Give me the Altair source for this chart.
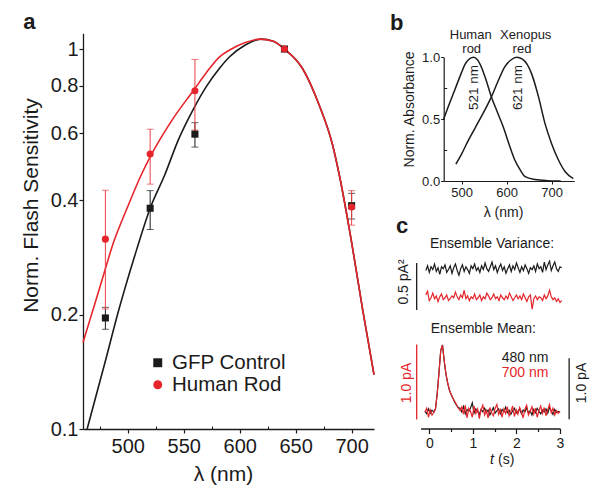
import altair as alt
import pandas as pd

FONT = "Liberation Sans"
RED = "#e5252b"
RED_ERR = "#ec3f44"
BLK = "#1b1b1b"

# ---------------- panel a data ----------------
wavelengths = [480, 520, 560, 640, 700]
gfp_mean = [0.196, 0.381, 0.597, 1.0, 0.387]
gfp_low = [0.183, 0.335, 0.552, 1.0, 0.357]
gfp_high = [0.209, 0.424, 0.640, 1.0, 0.417]
rod_mean = [0.316, 0.529, 0.777, 1.0, 0.384]
rod_low = [0.207, 0.441, 0.612, 1.0, 0.344]
rod_high = [0.425, 0.615, 0.939, 1.0, 0.424]

fit_gfp_nm = [463.7, 480, 492, 497, 508, 520, 533, 545, 559, 570, 582, 591, 605, 619, 630, 640, 656, 671, 683, 689, 700, 710, 720]
fit_gfp_val = [0.100, 0.151, 0.206, 0.232, 0.297, 0.381, 0.466, 0.575, 0.698, 0.795, 0.89, 0.954, 1.025, 1.062, 1.048, 1.0, 0.89, 0.712, 0.559, 0.466, 0.31, 0.205, 0.139]
fit_rod_nm = [460, 467.6, 473.5, 478.8, 487, 500, 512, 520, 540, 559, 570, 582, 591, 605, 618, 630, 640, 656, 671, 683, 689, 700, 710, 720]
fit_rod_val = [0.169, 0.200, 0.228, 0.257, 0.308, 0.385, 0.466, 0.52, 0.653, 0.78, 0.865, 0.954, 0.994, 1.04, 1.062, 1.048, 1.0, 0.89, 0.712, 0.559, 0.466, 0.31, 0.205, 0.139]

# ---------------- panel b data ----------------
abs_rod_nm = [460, 470, 485, 500, 507, 515, 526, 535, 545, 552, 566, 580, 592, 605, 618, 630, 641, 663, 690, 720]
abs_rod_val = [0.50, 0.60, 0.74, 0.88, 0.94, 0.98, 1.0, 0.98, 0.91, 0.84, 0.68, 0.55, 0.44, 0.30, 0.17, 0.09, 0.035, 0.012, 0.003, 0.0]
abs_xen_nm = [487, 500, 515, 530, 545, 566, 580, 596, 610, 622, 635, 655, 670, 685, 700, 715, 730, 748]
abs_xen_val = [0.137, 0.22, 0.33, 0.43, 0.53, 0.68, 0.80, 0.924, 0.98, 1.0, 0.985, 0.87, 0.69, 0.466, 0.30, 0.17, 0.075, 0.02]

# ---------------- panel c data ----------------
var_480 = [0.42, 0.47, 0.40, 0.46, 0.43, 0.49, 0.41, 0.45, 0.38, 0.46, 0.44, 0.48, 0.40, 0.43, 0.47, 0.39,
           0.45, 0.49, 0.42, 0.37, 0.44, 0.48, 0.41, 0.46, 0.43, 0.39, 0.47, 0.44, 0.49, 0.42, 0.45, 0.40,
           0.47, 0.43, 0.50, 0.44, 0.41, 0.46, 0.51, 0.43, 0.47, 0.40, 0.45, 0.49, 0.42, 0.46, 0.39, 0.44,
           0.48, 0.41, 0.47, 0.43, 0.50, 0.45, 0.40, 0.46, 0.42, 0.48, 0.44, 0.39, 0.45, 0.43, 0.47, 0.41,
           0.49, 0.44, 0.46, 0.40, 0.51, 0.43, 0.48, 0.52, 0.42, 0.47, 0.51, 0.44, 0.41, 0.46, 0.45]
var_700 = [0.16, 0.20, 0.10, 0.13, 0.18, 0.12, 0.15, 0.09, 0.14, 0.17, 0.11, 0.13, 0.16, 0.10, 0.12, 0.15,
           0.13, 0.19, 0.14, 0.11, 0.16, 0.13, 0.21, 0.12, 0.15, 0.10, 0.14, 0.12, 0.17, 0.11, 0.13, 0.16,
           0.10, 0.14, 0.12, 0.18, 0.15, 0.11, 0.13, 0.17, 0.12, 0.14, 0.10, 0.16, 0.13, 0.11, 0.15, 0.12,
           0.18, 0.14, 0.10, 0.13, 0.16, 0.12, 0.15, 0.11, 0.17, 0.13, 0.09, 0.14, 0.16, 0.01, 0.12, 0.15,
           0.11, 0.14, 0.13, 0.10, 0.16, 0.12, 0.15, 0.21, 0.14, 0.11, 0.13, 0.09, 0.12, 0.08, 0.10]
mean_700 = [0.04, 0.09, -0.03, 0.07, 0.00, 0.03, 0.08, 0.28, 0.56, 0.86, 0.93, 0.72, 0.55, 0.42, 0.33, 0.27,
            0.22, 0.18, 0.14, 0.09, 0.06, 0.11, 0.01, 0.13, -0.04, 0.09, 0.05, -0.03, 0.12, 0.02, 0.08, -0.05,
            0.07, 0.13, 0.00, 0.06, -0.04, 0.10, 0.03, -0.01, 0.09, 0.14, 0.01, 0.07, -0.03, 0.08, 0.02, 0.11,
            -0.01, 0.05, 0.12, -0.02, 0.07, 0.01, 0.10, 0.04, -0.04, 0.08, 0.13, 0.00, 0.05, 0.11, 0.01, 0.09,
            -0.03, 0.06, 0.12, 0.02, 0.10, -0.01, 0.07, 0.14, 0.03, 0.09, 0.00, 0.06, 0.02, 0.05]
mean_480 = [0.06, 0.02, 0.10, 0.03, 0.08, 0.05, 0.10, 0.36, 0.70, 1.06, 1.15, 0.88, 0.66, 0.52, 0.40, 0.33,
            0.27, 0.21, 0.16, 0.12, 0.11, 0.05, 0.14, 0.02, 0.09, 0.06, 0.12, 0.20, 0.03, 0.10, 0.07, 0.01,
            0.09, 0.05, 0.11, 0.04, 0.08, 0.00, 0.06, 0.12, 0.03, 0.07, 0.10, 0.02, 0.09, 0.05, 0.13, 0.04,
            0.08, 0.01, 0.07, 0.11, 0.03, 0.06, 0.10, 0.02, 0.08, 0.05, 0.12, 0.03, 0.07, 0.00, 0.09, 0.04,
            0.11, 0.06, 0.02, 0.08, 0.05, 0.10, 0.03, 0.12, 0.07, 0.01, 0.09, 0.04, 0.06, 0.05]


def grid(n, t0, t1):
    return [round(t0 + (t1 - t0) * i / (n - 1), 4) for i in range(n)]


# ---------------- scales (layout) ----------------
SXA = alt.Scale(domain=[460, 720], range=[75, 366], nice=False, zero=False)
SYA = alt.Scale(type="log", domain=[0.1, 1.1], range=[421, 25.3], nice=False)
SXB = alt.Scale(domain=[460, 750], range=[435.7, 566.2], nice=False, zero=False)
SYB = alt.Scale(domain=[0, 1], range=[173, 49.3], nice=False, zero=False)
SXC = alt.Scale(domain=[-0.2, 3], range=[412.6, 552], nice=False, zero=False)
SYV = alt.Scale(domain=[0, 0.5], range=[302, 255], nice=False, zero=False)
SYR = alt.Scale(domain=[0, 1], range=[407, 332], nice=False, zero=False)
SYK = alt.Scale(domain=[0, 1], range=[407, 346], nice=False, zero=False)

common_axis = dict(grid=False, domainColor=BLK, tickColor=BLK, labelColor=BLK, labelFont=FONT,
                   titleFont=FONT, titleColor=BLK, titleFontWeight="normal", labelFlush=False,
                   labelOverlap=False)

AXA_X = alt.Axis(values=[500, 550, 600, 650, 700], orient="bottom", offset=-65, tickSize=4, tickWidth=1.2,
                 domainWidth=1.3, labelFontSize=20, labelPadding=3, title="λ (nm)", titleFontSize=21,
                 titleX=215, titleY=51, titleBaseline="alphabetic", titleAlign="center", titleAngle=0,
                 **common_axis)
AXA_Xm = alt.Axis(values=[475, 525, 575, 625, 675], orient="bottom", offset=-68, tickSize=3, tickWidth=1,
                  labels=False, domain=False, title=None, grid=False, tickColor=BLK)
AXA_Y = alt.Axis(values=[0.1, 0.2, 0.4, 0.6, 0.8, 1], orient="left", offset=-75, tickSize=4, tickWidth=1.2,
                 domainWidth=1.3, labelFontSize=20, labelPadding=1,
                 labelExpr="datum.value == 1 ? '1' : format(datum.value, '.1f')",
                 title="Norm. Flash Sensitivity", titleFontSize=21, titleX=-45.7, titleY=197,
                 titleAngle=270, titleBaseline="alphabetic", titleAlign="center", **common_axis)

AXB_X = alt.Axis(values=[500, 600, 700], orient="bottom", offset=-313, tickSize=3, tickWidth=1,
                 domainWidth=1.2, labelFontSize=13, labelPadding=2, title="λ (nm)", titleFontSize=14,
                 titleX=495, titleY=35, titleBaseline="alphabetic", titleAlign="center", titleAngle=0,
                 **common_axis)
AXB_Y = alt.Axis(values=[0, 0.5, 1], orient="left", offset=-435.7, tickSize=3, tickWidth=1,
                 domainWidth=1.2, labelFontSize=13, labelPadding=1, format=".1f",
                 title="Norm. Absorbance", titleFontSize=14, titleX=-30.7, titleY=101,
                 titleAngle=270, titleBaseline="alphabetic", titleAlign="center", **common_axis)
AXB_Ym = alt.Axis(values=[0.25, 0.75], orient="left", offset=-438.7, tickSize=3, tickWidth=1,
                  labels=False, domain=False, title=None, grid=False, tickColor=BLK)

AXC_X = alt.Axis(values=[0, 1, 2, 3], orient="bottom", offset=-65.5, tickSize=5, tickWidth=1.2,
                 domainWidth=1.3, labelFontSize=14, labelPadding=3, format="d", title=None,
                 **common_axis)
AXC_Xm = alt.Axis(values=[0.5, 1.5, 2.5], orient="bottom", offset=-65.5, tickSize=3, tickWidth=1.2,
                  labels=False, domain=False, title=None, grid=False, tickColor=BLK)

layers = []

# ---------------- panel a ----------------
df_fit_gfp = pd.DataFrame({"x": fit_gfp_nm, "y": fit_gfp_val})
df_fit_rod = pd.DataFrame({"x": fit_rod_nm, "y": fit_rod_val})
for df, col in [(df_fit_gfp, BLK), (df_fit_rod, RED)]:
    layers.append(alt.Chart(df).mark_line(color=col, strokeWidth=1.6, interpolate="monotone").encode(
        x=alt.X("x:Q", scale=SXA, axis=None), y=alt.Y("y:Q", scale=SYA, axis=None)))

df_err_gfp = pd.DataFrame({"x": wavelengths, "lo": gfp_low, "hi": gfp_high})
df_err_rod = pd.DataFrame({"x": wavelengths, "lo": rod_low, "hi": rod_high})
for df, col in [(df_err_gfp, BLK), (df_err_rod, RED_ERR)]:
    layers.append(alt.Chart(df).mark_rule(color=col, strokeWidth=1).encode(
        x=alt.X("x:Q", scale=SXA, axis=None), y=alt.Y("lo:Q", scale=SYA, axis=None), y2="hi:Q"))
    for f in ["lo", "hi"]:
        layers.append(alt.Chart(df).mark_tick(color=col, orient="horizontal", size=7, thickness=1).encode(
            x=alt.X("x:Q", scale=SXA, axis=None), y=alt.Y(f + ":Q", scale=SYA, axis=None)))

df_pts = pd.concat([
    pd.DataFrame({"x": wavelengths, "y": gfp_mean, "s": "GFP Control"}),
    pd.DataFrame({"x": wavelengths, "y": rod_mean, "s": "Human Rod"}),
])
LEG = alt.Legend(orient="none", legendX=139.5, legendY=344.5, title=None, labelFont=FONT, labelFontSize=20.5,
                 labelColor=BLK, symbolSize=80, rowPadding=1, labelOffset=4, padding=0,
                 symbolStrokeWidth=0, symbolOpacity=1)
layers.append(alt.Chart(df_pts).mark_point(filled=True, opacity=1, size=50).encode(
    x=alt.X("x:Q", scale=SXA, axis=AXA_X),
    y=alt.Y("y:Q", scale=SYA, axis=AXA_Y),
    color=alt.Color("s:N", scale=alt.Scale(domain=["GFP Control", "Human Rod"], range=[BLK, RED]), legend=LEG),
    shape=alt.Shape("s:N", scale=alt.Scale(domain=["GFP Control", "Human Rod"], range=["square", "circle"]), legend=LEG),
))
layers.append(alt.Chart(df_pts).mark_point(opacity=0).encode(x=alt.X("x:Q", scale=SXA, axis=AXA_Xm)))

# ---------------- panel b ----------------
df_b_rod = pd.DataFrame({"x": abs_rod_nm, "y": abs_rod_val})
df_b_xen = pd.DataFrame({"x": abs_xen_nm, "y": abs_xen_val})
layers.append(alt.Chart(df_b_rod).mark_line(color=BLK, strokeWidth=1.5, interpolate="monotone").encode(
    x=alt.X("x:Q", scale=SXB, axis=AXB_X), y=alt.Y("y:Q", scale=SYB, axis=AXB_Y)))
layers.append(alt.Chart(df_b_xen).mark_line(color=BLK, strokeWidth=1.5, interpolate="monotone").encode(
    x=alt.X("x:Q", scale=SXB, axis=None), y=alt.Y("y:Q", scale=SYB, axis=AXB_Ym)))

# ---------------- panel c ----------------
df_var_k = pd.DataFrame({"t": grid(len(var_480), -0.08, 3.04), "v": var_480})
df_var_r = pd.DataFrame({"t": grid(len(var_700), -0.08, 3.04), "v": var_700})
df_mean_k = pd.DataFrame({"t": grid(len(mean_480), -0.1, 3.0), "v": mean_480})
df_mean_r = pd.DataFrame({"t": grid(len(mean_700), -0.1, 3.0), "v": mean_700})

layers.append(alt.Chart(df_var_k).mark_line(color=BLK, strokeWidth=1.2).encode(
    x=alt.X("t:Q", scale=SXC, axis=None), y=alt.Y("v:Q", scale=SYV, axis=None)))
layers.append(alt.Chart(df_var_r).mark_line(color=RED, strokeWidth=1.2).encode(
    x=alt.X("t:Q", scale=SXC, axis=None), y=alt.Y("v:Q", scale=SYV, axis=None)))
layers.append(alt.Chart(df_mean_k).mark_line(color=BLK, strokeWidth=1.2).encode(
    x=alt.X("t:Q", scale=SXC, axis=None), y=alt.Y("v:Q", scale=SYK, axis=None)))
layers.append(alt.Chart(df_mean_r).mark_line(color=RED, strokeWidth=1.2).encode(
    x=alt.X("t:Q", scale=SXC, axis=AXC_X), y=alt.Y("v:Q", scale=SYR, axis=None)))
layers.append(alt.Chart(df_mean_r).mark_point(opacity=0).encode(x=alt.X("t:Q", scale=SXC, axis=AXC_Xm)))

# scale bars (0.5 pA^2, 1.0 pA red, 1.0 pA black)
bar_var = pd.DataFrame({"t": [-0.29], "a": [0.0], "b": [0.5]})
bar_red = pd.DataFrame({"t": [-0.29], "a": [-0.06], "b": [0.94]})
bar_blk = pd.DataFrame({"t": [3.21], "a": [-0.07], "b": [0.93]})
for df, ys, col in [(bar_var, SYV, BLK), (bar_red, SYR, RED), (bar_blk, SYK, BLK)]:
    layers.append(alt.Chart(df).mark_rule(color=col, strokeWidth=1.3).encode(
        x=alt.X("t:Q", scale=SXC, axis=None), y=alt.Y("a:Q", scale=ys, axis=None), y2="b:Q"))


# ---------------- text ----------------
def txt(text, x, y, size=14, color=BLK, angle=0, align="center", baseline="alphabetic",
        weight="normal", style="normal"):
    return alt.Chart(pd.DataFrame({"s": [text]})).mark_text(
        font=FONT, fontSize=size, color=color, angle=angle, align=align, baseline=baseline,
        fontWeight=weight, fontStyle=style).encode(text="s:N", x=alt.value(x), y=alt.value(y))


layers += [
    txt("a", 15.3, 21.3, size=22, align="left", weight="bold"),
    txt("b", 382, 22, size=22, align="left", weight="bold"),
    txt("c", 388, 224.7, size=22, align="left", weight="bold"),
    txt("Human", 462.7, 31, size=13),
    txt("rod", 463.7, 45.3, size=13),
    txt("Xenopus", 517.7, 31, size=13),
    txt("red", 514, 45.3, size=13),
    txt("521 nm", 466, 79.5, size=13.5, angle=270, baseline="middle"),
    txt("621 nm", 510.3, 79.5, size=13.5, angle=270, baseline="middle"),
    txt("Ensemble Variance:", 484, 240, size=14),
    txt("Ensemble Mean:", 475.3, 325, size=14),
    txt("0.5 pA²", 396, 274, size=14, angle=270, baseline="middle"),
    txt("1.0 pA", 398.7, 375, size=14, color=RED, angle=270, baseline="middle"),
    txt("1.0 pA", 573.7, 375, size=14, angle=270, baseline="middle"),
    txt("480 nm", 493.7, 353.7, size=14, align="left"),
    txt("700 nm", 493.7, 369.3, size=14, color=RED, align="left"),
    txt("t", 482, 456, size=14, align="left", style="italic"),
    txt("(s)", 490, 456, size=14, align="left"),
]

chart = alt.layer(*layers).resolve_scale(
    x="independent", y="independent"
).properties(
    width=584, height=486, padding=0, autosize=alt.AutoSizeParams(type="none")
).configure_view(stroke=None)

chart.save("out.html", embed_options={"renderer": "svg", "actions": False})
